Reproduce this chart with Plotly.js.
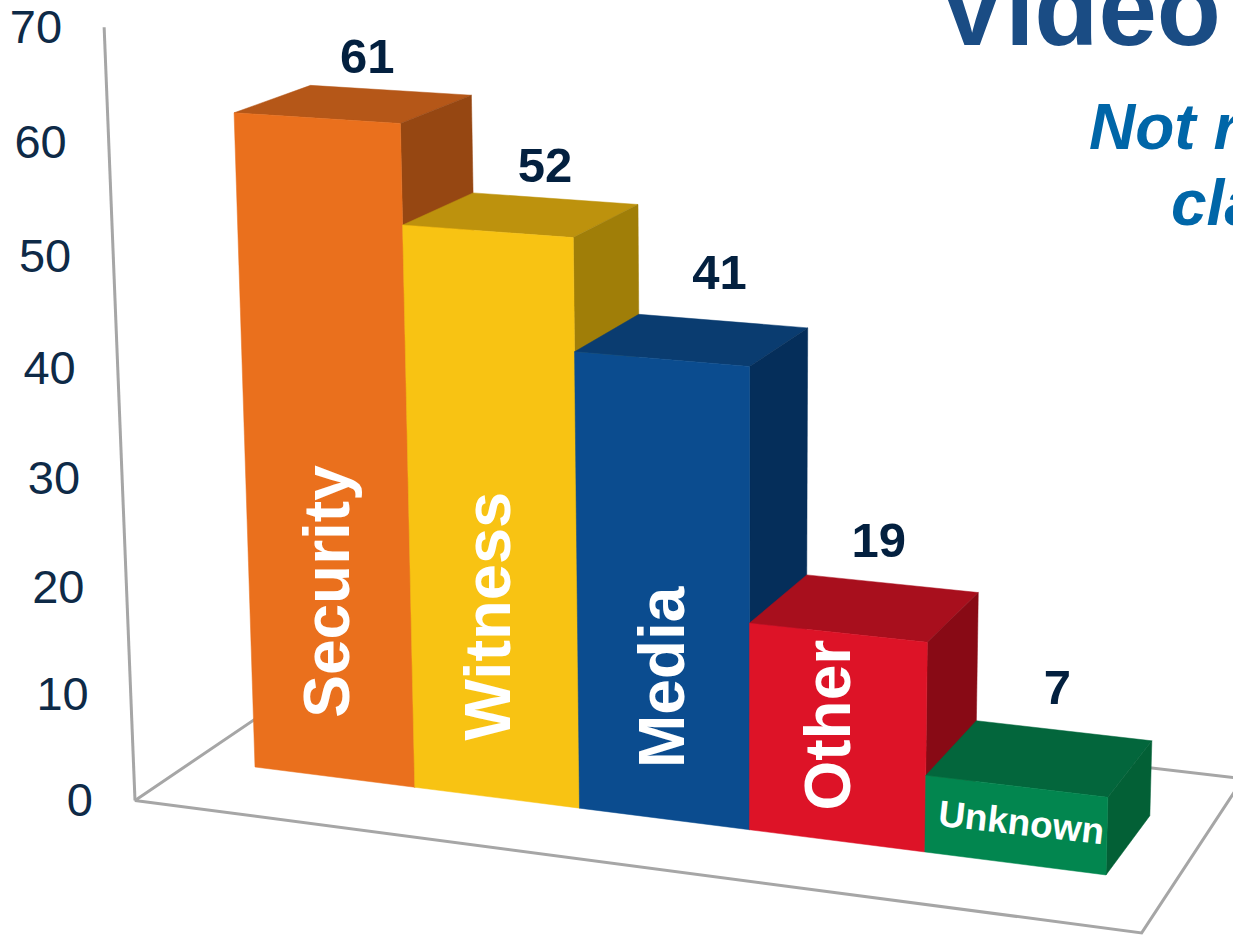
<!DOCTYPE html>
<html>
<head>
<meta charset="utf-8">
<script src="https://cdn.plot.ly/plotly-3.0.1.min.js"></script>
<style>html,body{margin:0;padding:0;background:#fff;overflow:hidden}#chart{width:1233px;height:936px}</style>
</head>
<body>
<div id="chart"></div>
<script>
// Data
const categories = ["Security", "Witness", "Media", "Other", "Unknown"];
const valueLabels = ["61", "52", "41", "19", "7"];
const barHeights = [61, 52, 41.9, 19, 7];
const axisTicks = [0, 10, 20, 30, 40, 50, 60, 70];
const frontColors = ["#EA701D", "#F8C313", "#0B4C8F", "#DD1327", "#02864F"];
const topColors = ["#B55718", "#BD920D", "#0A3C70", "#A80F1D", "#03663C"];
const sideColors = ["#964712", "#A07E08", "#052E5A", "#880A15", "#036036"];

// Perspective camera: (category slot u, value v, depth d) -> axis coordinates
function project(u, v, d) {
  const w = 1 - 0.0151 * u - 0.00067 * v + 0.039 * d;
  return [(255 + 153.5 * u - 0.5 * v + 85.4 * d) / w,
          (767 + 8.38 * u - 10.8 * v - 23 * d) / w];
}
const FLOOR = {u0: -0.38, u1: 5.375, d0: -0.76, d1: 1.8, backU1: 5.35};

function poly(points, color) {
  const pts = points.map(p => project(p[0], p[1], p[2]));
  pts.push(pts[0]);
  return {x: pts.map(p => p[0]), y: pts.map(p => p[1]), mode: "lines", fill: "toself",
          fillcolor: color, line: {color: color, width: 0.5}, hoverinfo: "skip", showlegend: false};
}
function path(points) {
  const pts = points.map(p => project(p[0], p[1], p[2]));
  return {x: pts.map(p => p[0]), y: pts.map(p => p[1]), mode: "lines",
          line: {color: "#A6A6A6", width: 3}, hoverinfo: "skip", showlegend: false};
}

const traces = [];
// Floor and value axis
traces.push(path([[FLOOR.u0, 0, FLOOR.d1], [FLOOR.u0, 0, FLOOR.d0], [FLOOR.u1, 0, FLOOR.d0], [FLOOR.backU1, 0, FLOOR.d1], [FLOOR.u0, 0, FLOOR.d1]]));
traces.push(path([[FLOOR.u0, 0, FLOOR.d0], [FLOOR.u0, 70, FLOOR.d0]]));

// Bars, left to right
barHeights.forEach((h, i) => {
  traces.push(poly([[i, h, 0], [i, h, 1], [i + 1, h, 1], [i + 1, h, 0]], topColors[i]));
  traces.push(poly([[i + 1, h, 0], [i + 1, h, 1], [i + 1, 0, 1], [i + 1, 0, 0]], sideColors[i]));
  traces.push(poly([[i, 0, 0], [i, h, 0], [i + 1, h, 0], [i + 1, 0, 0]], frontColors[i]));
});

// Value axis tick labels
const tickPts = axisTicks.map(t => project(FLOOR.u0, t, FLOOR.d0));
traces.push({x: tickPts.map(p => p[0] - 42), y: tickPts.map(p => p[1] + 4), mode: "text",
  text: axisTicks.map(String), textposition: "middle left", cliponaxis: false,
  textfont: {family: "Liberation Sans", size: 47, color: "#0E2A47"}, hoverinfo: "skip", showlegend: false});

// Value labels above the bars
const labelNudgeX = [-23, -10, -3, -13, -6];
const labelNudgeY = [-29, -29, -44, -39, -39];
const labelPts = barHeights.map((h, i) => project(i + 0.5, h, 1));
traces.push({x: labelPts.map((p, i) => p[0] + labelNudgeX[i]), y: labelPts.map((p, i) => p[1] + labelNudgeY[i]),
  mode: "text", text: valueLabels, textposition: "middle center",
  textfont: {family: "Liberation Sans", size: 49, color: "#03203F", weight: "bold"}, hoverinfo: "skip", showlegend: false});

// Category labels on the bar fronts
const catLevel = [17.7, 17.1, 13.2, 10.6, 3.7];
const catNudgeX = [-3, -6, -1, -9, 6];
const catAngle = [-90, -90, -90, -90, 6.4];
const catSize = [64, 65, 64, 64, 37];
const annotations = categories.map((c, i) => {
  const p = project(i + 0.5, catLevel[i], 0);
  return {x: p[0] + catNudgeX[i], y: p[1], xref: "x", yref: "y", text: "<b>" + c + "</b>", showarrow: false,
          textangle: catAngle[i], xanchor: "center", yanchor: "middle",
          font: {family: "Liberation Sans", size: catSize[i], color: "#FFFFFF"}};
});

// Title text cropped by the picture edge
annotations.push({x: 935, y: 8, xref: "x", yref: "y", text: "<b>Video</b>", showarrow: false, xanchor: "left", yanchor: "middle",
  font: {family: "Liberation Sans", size: 105, color: "#1A4C84"}});
annotations.push({x: 1087, y: 127, xref: "x", yref: "y", text: "<b><i>Not r</i></b>", showarrow: false, xanchor: "left", yanchor: "middle",
  font: {family: "Liberation Sans", size: 64, color: "#0066A8"}});
annotations.push({x: 1169, y: 203, xref: "x", yref: "y", text: "<b><i>cla</i></b>", showarrow: false, xanchor: "left", yanchor: "middle",
  font: {family: "Liberation Sans", size: 64, color: "#0066A8"}});

const layout = {
  width: 1233, height: 936,
  margin: {l: 0, r: 0, t: 0, b: 0, pad: 0},
  paper_bgcolor: "#FFFFFF", plot_bgcolor: "#FFFFFF",
  xaxis: {range: [0, 1233], visible: false, fixedrange: true},
  yaxis: {range: [936, 0], visible: false, fixedrange: true},
  showlegend: false,
  annotations: annotations
};
Plotly.newPlot("chart", traces, layout, {displayModeBar: false, staticPlot: true});
</script>
</body>
</html>
